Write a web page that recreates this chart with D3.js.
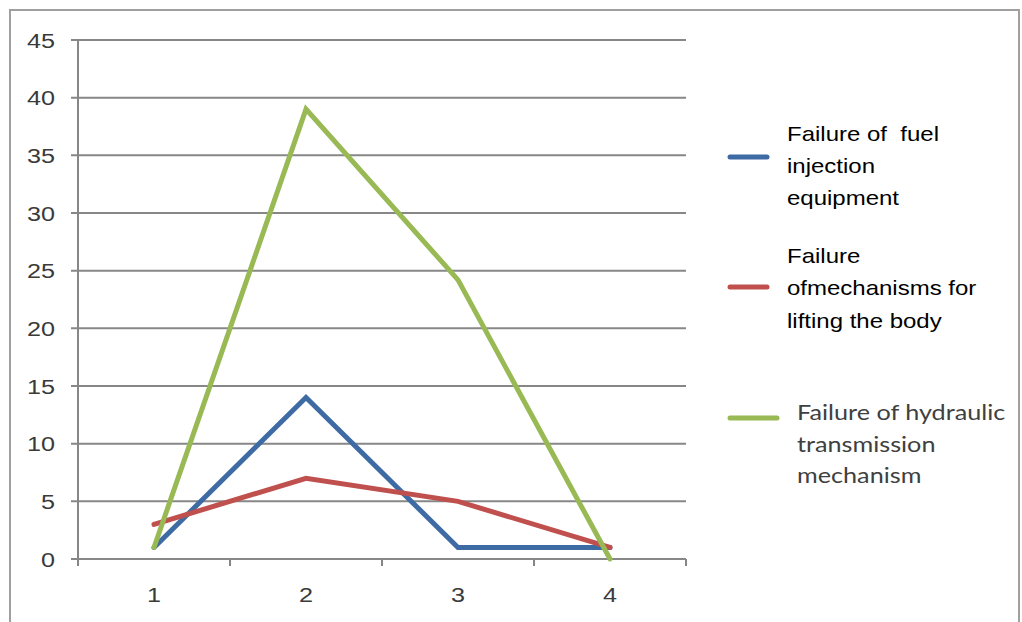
<!DOCTYPE html>
<html><head><meta charset="utf-8">
<script src="https://cdn.jsdelivr.net/npm/d3@7"></script>
<style>body{margin:0;background:#fff}svg{display:block}</style>
</head><body>
<svg id="c" width="1022" height="622"></svg>
<script>
const categories = ["1", "2", "3", "4"];
const yTicks = [0, 5, 10, 15, 20, 25, 30, 35, 40, 45];
const fuelInjection = [1, 14, 1, 1];
const liftingBody = [3, 7, 5, 1];
const hydraulicTransmission = [1, 39, 24.2, 0];
const seriesNames = [
  ["Failure of  fuel", "injection", "equipment"],
  ["Failure", "ofmechanisms for", "lifting the body"],
  ["Failure of hydraulic", "transmission", "mechanism"]
];
const seriesColors = ["#3F6BA5", "#C0504D", "#98B954"];
const seriesValues = [fuelInjection, liftingBody, hydraulicTransmission];

const svg = d3.select("#c");
const SX = 1.2;

// outer border
svg.append("path").attr("d", "M10,622 L10,10 L1019,10 L1019,622")
  .attr("fill", "none").attr("stroke", "#a0a0a0").attr("stroke-width", 2);

const x = d3.scaleBand().domain(categories).range([78, 686]);
const y = d3.scaleLinear().domain([0, 45]).range([559, 40]);

// gridlines
svg.append("g").selectAll("line").data(yTicks).join("line")
  .attr("x1", 71).attr("x2", 686)
  .attr("y1", d => y(d)).attr("y2", d => y(d))
  .attr("stroke", "#878787").attr("stroke-width", 2);

// y axis line
svg.append("line").attr("x1", 78).attr("x2", 78).attr("y1", y(45)).attr("y2", y(0) + 1)
  .attr("stroke", "#878787").attr("stroke-width", 2);

// x ticks at band boundaries
const bounds = categories.map(c => x(c)).concat([x.range()[1]]);
svg.append("g").selectAll("line").data(bounds).join("line")
  .attr("x1", d => d).attr("x2", d => d)
  .attr("y1", y(0)).attr("y2", y(0) + 7)
  .attr("stroke", "#878787").attr("stroke-width", 2);

// y tick labels
svg.append("g").selectAll("text").data(yTicks).join("text")
  .attr("transform", d => `translate(55,${y(d) + 7.5}) scale(${SX},1)`)
  .attr("text-anchor", "end")
  .attr("font-family", "Liberation Sans, Arial, sans-serif").attr("font-size", 21)
  .attr("fill", "#3a3a3a").text(d => d);

// x tick labels
svg.append("g").selectAll("text").data(categories).join("text")
  .attr("transform", d => `translate(${x(d) + x.bandwidth() / 2},602) scale(${SX},1)`)
  .attr("text-anchor", "middle")
  .attr("font-family", "Liberation Sans, Arial, sans-serif").attr("font-size", 21)
  .attr("fill", "#3a3a3a").text(d => d);

// lines
const line = d3.line().x((d, i) => x(categories[i]) + x.bandwidth() / 2).y(d => y(d));
seriesValues.forEach((vals, k) => {
  svg.append("path").datum(vals).attr("d", line)
    .attr("fill", "none").attr("stroke", seriesColors[k]).attr("stroke-width", 5)
    .attr("stroke-linejoin", "miter").attr("stroke-linecap", "round");
});

// legend
const legendLineY = [157, 287, 418];
const legendLineX2 = [767, 767, 777];
const legendTextX = [787, 787, 797];
const legendBase = [[141, 173, 205], [263, 295, 328], [420, 452, 483]];
seriesNames.forEach((lines, k) => {
  svg.append("line").attr("x1", 730).attr("x2", legendLineX2[k])
    .attr("y1", legendLineY[k]).attr("y2", legendLineY[k])
    .attr("stroke", seriesColors[k]).attr("stroke-width", 5).attr("stroke-linecap", "round");
  lines.forEach((t, j) => {
    svg.append("text")
      .attr("transform", `translate(${legendTextX[k]},${legendBase[k][j]}) scale(${SX},1)`)
      .attr("font-family", k === 2 ? "Lato, Open Sans, sans-serif" : "Liberation Sans, Arial, sans-serif")
      .attr("font-size", k === 2 ? 21 : 20)
      .attr("fill", k === 2 ? "#404040" : "#000")
      .attr("xml:space", "preserve").style("white-space", "pre")
      .text(t);
  });
});
</script>
</body></html>
